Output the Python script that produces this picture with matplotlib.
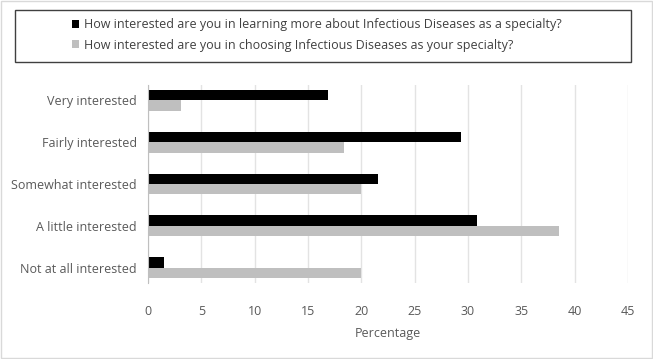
import numpy as np
import matplotlib.pyplot as plt
from matplotlib.patches import Rectangle

categories = ['Very interested', 'Fairly interested', 'Somewhat interested',
              'A little interested', 'Not at all interested']
learning = [16.9, 29.3, 21.6, 30.8, 1.5]
choosing = [3.1, 18.4, 20.0, 38.5, 20.0]
labels = ['How interested are you in learning more about Infectious Diseases as a specialty?',
          'How interested are you in choosing Infectious Diseases as your specialty?']

plt.rcParams['font.family'] = ['Open Sans', 'DejaVu Sans']
txt = '#595959'

fig = plt.figure(figsize=(6.53, 3.59), dpi=100)
ax = fig.add_axes([148 / 653, 1 - 283 / 359, 480 / 653, 198 / 359])

y = np.arange(len(categories))
h = 0.25
b1 = ax.barh(y - h / 2, learning, height=h, color='black', label=labels[0])
b2 = ax.barh(y + h / 2, choosing, height=h, color='#bfbfbf', label=labels[1])

ax.set_xlim(0, 45)
ax.set_ylim(4.36, -0.36)
ax.set_xticks(np.arange(0, 46, 5))
ax.set_yticks(y)
ax.set_yticklabels(categories)
ax.tick_params(axis='both', length=0, labelsize=9, colors=txt)
ax.tick_params(axis='x', pad=16)
ax.tick_params(axis='y', pad=8)
ax.grid(axis='x', color='#e3e3e3', linewidth=1)
ax.set_axisbelow(True)
for s in ['top', 'right', 'bottom']:
    ax.spines[s].set_visible(False)
ax.spines['left'].set_color('#bfbfbf')
ax.set_xlabel('Percentage', fontsize=9, color=txt, labelpad=6)

fig.legend(handles=[b1, b2], loc='center', bbox_to_anchor=(0.485, 1 - 35 / 359),
           frameon=False, fontsize=9, labelcolor='#404040', handlelength=0.6,
           handleheight=0.6, handletextpad=0.4, labelspacing=0.6)
fig.add_artist(Rectangle((15 / 653, 1 - 62 / 359), 616 / 653, 52 / 359,
                         transform=fig.transFigure, fill=False,
                         edgecolor='#404040', linewidth=1))
fig.add_artist(Rectangle((0.002, 0.003), 0.996, 0.994, transform=fig.transFigure,
                         fill=False, edgecolor='#d9d9d9', linewidth=1))

plt.savefig('out.png', dpi=100)
